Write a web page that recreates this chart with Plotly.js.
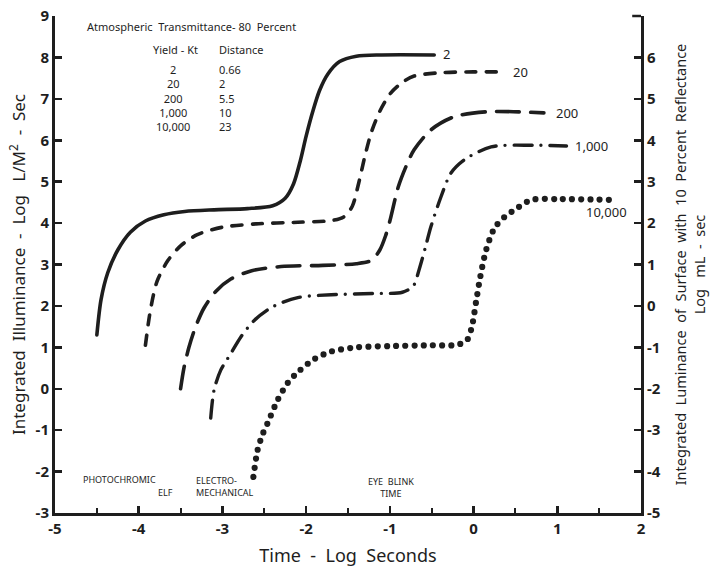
<!DOCTYPE html>
<html>
<head>
<meta charset="utf-8">
<script src="https://cdn.plot.ly/plotly-3.0.1.min.js"></script>
<style>
html,body{margin:0;padding:0;background:#fff;}
#chart{width:713px;height:567px;}
.js-line{stroke-linecap:round !important;stroke-linejoin:round !important;}
</style>
</head>
<body>
<div id="chart"></div>
<script>
// ---- data ----
const curveLabels = ['2','20','200','1,000','10,000'];

const t_2 = [-4.50,-4.45,-4.37,-4.25,-4.10,-3.92,-3.70,-3.45,-3.1,-2.7,-2.4,-2.25,-2.15,-2.07,-2.0,-1.92,-1.84,-1.74,-1.6,-1.4,-1.1,-0.47];
const v_2 = [1.30,2.15,2.80,3.35,3.78,4.05,4.20,4.28,4.32,4.35,4.42,4.6,4.95,5.5,6.1,6.7,7.2,7.6,7.9,8.03,8.06,8.06];

const t_20 = [-3.92,-3.86,-3.78,-3.65,-3.5,-3.3,-3.0,-2.6,-2.1,-1.7,-1.55,-1.45,-1.38,-1.3,-1.22,-1.12,-0.99,-0.85,-0.71,-0.4,0.0,0.33];
const v_20 = [1.05,1.9,2.6,3.1,3.45,3.72,3.9,3.98,4.02,4.06,4.15,4.4,4.9,5.6,6.2,6.7,7.14,7.4,7.55,7.63,7.65,7.65];

const t_200 = [-3.50,-3.46,-3.40,-3.32,-3.22,-3.08,-2.9,-2.65,-2.3,-1.8,-1.4,-1.22,-1.12,-1.05,-1.0,-0.9,-0.8,-0.71,-0.51,-0.23,0.17,0.84];
const v_200 = [0.0,0.5,1.0,1.5,1.95,2.35,2.65,2.85,2.95,2.98,3.02,3.1,3.35,3.7,4.05,4.87,5.4,5.77,6.25,6.57,6.69,6.66];

const t_1000 = [-3.14,-3.10,-3.02,-2.90,-2.78,-2.62,-2.4,-2.1,-1.7,-1.2,-0.85,-0.72,-0.65,-0.58,-0.51,-0.39,-0.27,-0.11,0.21,0.7,1.11];
const v_1000 = [-0.71,-0.03,0.45,0.85,1.25,1.65,1.98,2.2,2.27,2.3,2.33,2.48,2.88,3.38,3.91,4.63,5.21,5.53,5.84,5.88,5.86];

const t_10000 = [-2.63,-2.58,-2.52,-2.46,-2.34,-2.22,-2.10,-1.9,-1.7,-1.4,-1.0,-0.5,-0.2,-0.08,-0.02,0.03,0.08,0.15,0.25,0.37,0.49,0.69,1.0,1.67];
const v_10000 = [-2.13,-1.48,-1.1,-0.83,-0.27,0.14,0.40,0.72,0.9,1.0,1.03,1.05,1.06,1.17,1.5,2.1,2.7,3.35,3.88,4.15,4.32,4.56,4.58,4.56];

const yieldsKt = ['2','20','200','1,000','10,000'];
const distances = ['0.66','2','5.5','10','23'];

const xTickVals = [-5,-4,-3,-2,-1,0,1,2];
const yTickVals = [-3,-2,-1,0,1,2,3,4,5,6,7,8,9];
const y2TickVals = [-5,-4,-3,-2,-1,0,1,2,3,4,5,6];

const bottomNotes = [
  {lines:['PHOTOCHROMIC'], x:-4.23, y:-2.2, anchor:'center', align:'center'},
  {lines:['ELF'], x:-3.68, y:-2.5, anchor:'center', align:'center'},
  {lines:['ELECTRO-','MECHANICAL'], x:-3.34, y:-2.35, anchor:'left', align:'left'},
  {lines:['EYE  BLINK','TIME'], x:-0.99, y:-2.38, anchor:'center', align:'center'}
];

// ---- drawing ----
const ink = '#1e1e1e';
const series = [
  {x:t_2, y:v_2, dash:'solid', w:3.6},
  {x:t_20, y:v_20, dash:'10px,10.5px', w:3.6},
  {x:t_200, y:v_200, dash:'23px,11.5px', w:3.6},
  {x:t_1000, y:v_1000, dash:'18px,9px,0px,9px', w:3.4},
  {x:t_10000, y:v_10000, dash:'0px,9.2px', w:6.2}
];
const traces = series.map((s,i)=>({
  x:s.x, y:s.y, type:'scatter', mode:'lines', name:curveLabels[i],
  line:{color:ink, width:s.w, dash:s.dash, shape:'spline', smoothing:0.8},
  hoverinfo:'skip', showlegend:false
}));
// invisible trace to activate the right axis
traces.push({x:[0], y:[0], yaxis:'y2', type:'scatter', mode:'markers', marker:{opacity:0}, showlegend:false, hoverinfo:'skip'});

const font = 'Noto Sans, DejaVu Sans, sans-serif';
const annotations = [];
// curve labels at each curve's end
const labelOffsets = [{dx:0.08,dy:0.02},{dx:0.12,dy:0.0},{dx:0.12,dy:0.0},{dx:0.08,dy:0.0},{dx:-0.35,dy:-0.3}];
series.forEach((s,i)=>{
  const n = s.x.length-1;
  annotations.push({x:s.x[n]+labelOffsets[i].dx, y:s.y[n]+labelOffsets[i].dy, text:curveLabels[i],
    showarrow:false, xanchor:'left', yanchor:'middle', font:{family:font, size:13, color:ink}});
});
annotations.push({x:-4.64, y:8.74, text:'Atmospheric  Transmittance- 80  Percent', showarrow:false,
  xanchor:'left', yanchor:'middle', font:{family:font, size:11, color:ink}});
annotations.push({x:-3.56, y:8.18, text:'Yield - Kt', showarrow:false, xanchor:'center', font:{family:font, size:11, color:ink}});
annotations.push({x:-3.06, y:8.18, text:'Distance', showarrow:false, xanchor:'left', font:{family:font, size:11, color:ink}});
annotations.push({x:-3.59, y:7.93, yanchor:'top', text:yieldsKt.join('<br>'), showarrow:false, xanchor:'center', align:'center',
  font:{family:font, size:11, color:ink}});
annotations.push({x:-3.06, y:7.93, yanchor:'top', text:distances.join('<br>'), showarrow:false, xanchor:'left', align:'left',
  font:{family:font, size:11, color:ink}});
bottomNotes.forEach(b=>{
  annotations.push({x:b.x, y:b.y, text:b.lines.join('<br>'), showarrow:false, xanchor:b.anchor, align:b.align,
    font:{family:font, size:9, color:ink}});
});

const layout = {
  width:713, height:567,
  margin:{l:55, r:72, t:16, b:54},
  paper_bgcolor:'#fff', plot_bgcolor:'#fff',
  showlegend:false,
  xaxis:{range:[-5,2], tickvals:xTickVals, ticktext:xTickVals.map(String),
    showgrid:false, zeroline:false, showline:true, linecolor:ink, linewidth:3,
    ticks:'inside', ticklen:7, tickwidth:2.5, tickcolor:ink,
    minor:{dtick:0.5, tick0:0, ticks:'inside', ticklen:5, tickwidth:2, tickcolor:ink},
    tickfont:{family:font, size:15, color:ink, weight:700},
    title:{text:'Time  -  Log  Seconds', font:{family:font, size:18, color:ink}, standoff:14},
    fixedrange:true},
  yaxis:{range:[-3,9], tickvals:yTickVals, ticktext:yTickVals.map(String),
    showgrid:false, zeroline:false, showline:true, linecolor:ink, linewidth:3,
    ticks:'inside', ticklen:7, tickwidth:2.5, tickcolor:ink,
    tickfont:{family:font, size:15, color:ink, weight:700},
    title:{text:'Integrated  Illuminance  -  Log   L/M<sup>2</sup>  -  Sec', font:{family:font, size:17, color:ink}, standoff:6},
    fixedrange:true},
  yaxis2:{range:[-5,7], overlaying:'y', side:'right', tickvals:y2TickVals, ticktext:y2TickVals.map(String),
    showgrid:false, zeroline:false, showline:true, linecolor:ink, linewidth:3,
    ticks:'inside', ticklen:7, tickwidth:2.5, tickcolor:ink,
    tickfont:{family:font, size:15, color:ink, weight:700},
    title:{text:'Integrated  Luminance  of  Surface  with  10  Percent  Reflectance<br>Log   mL  -  sec', font:{family:font, size:14.5, color:ink}, standoff:17},
    fixedrange:true},
  shapes:[{type:'line', xref:'paper', yref:'paper', x0:0.985, x1:1, y0:1, y1:1, line:{color:ink, width:2.5}}],
  annotations:annotations
};
Plotly.newPlot('chart', traces, layout, {displayModeBar:false, staticPlot:true});
</script>
</body>
</html>
